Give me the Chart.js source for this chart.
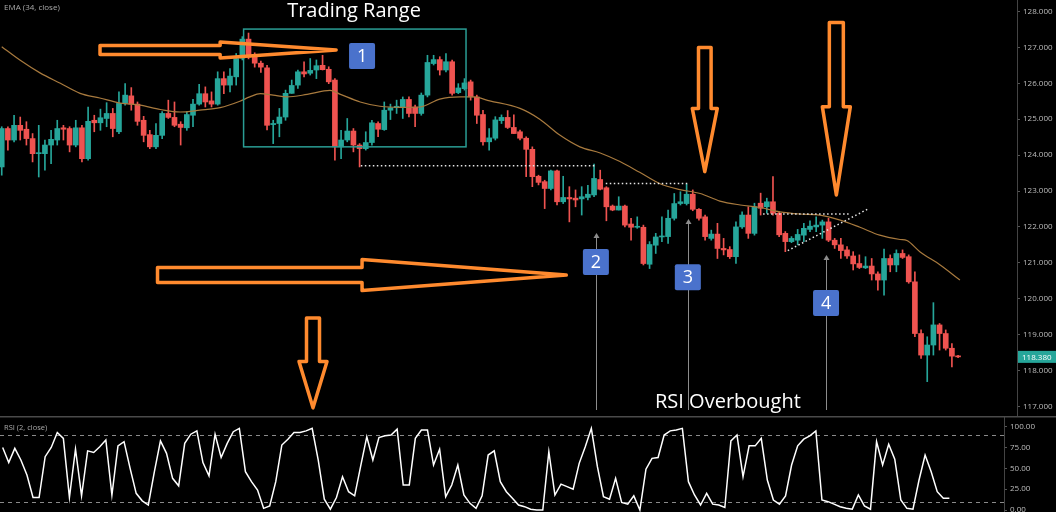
<!DOCTYPE html>
<html>
<head>
<meta charset="utf-8">
<script src="https://cdn.jsdelivr.net/npm/chart.js@4.4.1/dist/chart.umd.min.js"></script>
<style>
  html, body { margin: 0; padding: 0; background: #000; overflow: hidden; }
  canvas { display: block; }
</style>
</head>
<body>
<canvas id="main" width="1056" height="416"></canvas>
<canvas id="rsi" width="1056" height="96"></canvas>
<script>
// price candles (index 0..155)
const opens = [123.67,124.74,124.42,124.83,124.72,124.46,124.04,124.04,124.28,124.42,
  124.76,124.74,124.28,124.76,123.90,124.97,124.90,125.02,125.16,124.65,
  125.44,125.65,125.42,124.97,124.57,124.23,124.55,125.16,125.05,124.86,
  124.76,125.11,125.42,125.71,125.51,125.42,126.13,125.95,126.18,126.70,
  127.23,126.73,126.56,126.43,124.85,124.88,125.06,125.72,125.95,126.32,
  126.28,126.37,126.50,126.39,126.09,124.23,124.42,124.67,124.28,124.18,
  124.35,124.88,124.71,125.25,125.32,125.32,125.55,125.34,125.16,125.67,
  126.55,126.66,126.37,126.60,125.74,125.85,126.04,125.62,125.13,124.37,
  124.47,124.96,125.05,124.77,124.65,124.47,124.16,123.41,123.26,123.07,
  123.56,122.70,122.82,122.80,122.78,122.82,122.89,123.32,123.09,122.58,
  122.47,122.58,122.08,121.99,121.99,120.96,121.49,121.72,121.73,122.24,
  122.65,122.65,122.91,122.49,122.28,121.68,121.80,121.40,121.37,121.17,
  122.00,122.33,121.82,122.66,122.56,122.70,122.38,121.82,121.59,121.63,
  121.77,121.93,122.00,122.05,122.14,121.63,121.50,121.36,121.19,120.98,
  120.86,120.91,120.69,120.52,121.12,120.94,121.26,121.17,120.47,119.03,
  118.43,118.71,119.27,119.03,118.62,118.40];
const highs = [124.79,124.79,125.11,125.06,124.93,124.60,124.83,124.42,124.69,124.97,
  124.83,124.79,124.97,124.83,125.34,125.11,125.28,125.46,125.30,125.76,
  125.99,125.88,125.48,125.08,124.69,124.88,125.21,125.53,125.48,124.93,
  125.21,125.55,125.97,125.90,125.76,126.32,126.32,126.41,126.83,127.30,
  127.40,126.85,126.62,126.50,124.97,125.30,125.81,126.09,126.37,126.60,
  126.69,126.65,126.78,126.46,126.13,124.69,125.02,124.74,124.32,124.65,
  124.97,124.93,125.48,125.42,125.53,125.62,125.62,125.39,125.73,126.78,
  126.78,126.74,126.83,126.65,125.99,126.13,126.09,125.67,125.25,124.74,
  125.07,125.12,125.24,125.12,124.70,124.51,124.23,123.44,123.30,123.58,
  123.58,123.41,123.12,123.03,123.12,123.16,123.75,123.58,123.12,122.61,
  122.84,122.61,122.24,122.28,122.05,121.59,121.82,122.28,122.47,122.93,
  122.98,123.19,123.03,122.51,122.33,121.91,122.10,121.68,121.45,122.14,
  122.42,122.56,122.66,122.94,122.80,123.40,122.42,121.87,121.73,121.93,
  122.10,122.17,122.28,122.19,122.24,121.68,121.68,121.45,121.31,121.22,
  121.17,121.12,120.75,121.38,121.22,121.36,121.36,121.22,120.75,119.13,
  118.94,119.89,119.31,119.13,118.75,118.42];
const lows = [123.44,124.14,124.37,124.42,124.28,123.81,123.39,123.58,123.76,124.28,
  124.42,124.09,124.23,123.81,123.86,124.65,124.69,124.79,124.51,124.60,
  125.39,125.25,124.83,124.37,124.18,124.18,124.46,125.02,124.79,124.28,
  124.69,124.79,125.39,125.34,125.34,125.39,125.71,125.76,125.95,126.65,
  126.68,126.45,126.30,124.70,124.32,124.51,124.97,125.72,125.86,126.18,
  126.23,126.13,126.37,125.99,123.86,123.90,124.37,124.09,123.67,124.14,
  124.28,124.51,124.69,124.99,125.16,125.02,125.06,124.79,125.11,125.62,
  126.51,126.23,126.32,125.67,125.71,125.81,125.53,124.88,124.28,124.14,
  124.42,124.88,124.74,124.60,124.42,123.40,123.12,123.17,122.51,123.03,
  122.61,122.65,122.14,122.56,122.33,122.75,122.84,123.03,122.17,122.45,
  122.47,122.00,121.63,121.96,120.94,120.84,121.26,121.59,121.54,122.19,
  122.61,122.61,122.45,122.19,121.63,121.63,121.12,121.22,121.12,120.98,
  121.96,121.68,121.77,122.33,122.38,122.33,121.73,121.31,121.56,121.50,
  121.59,121.87,121.87,121.68,121.59,121.40,121.12,121.12,120.80,120.84,
  120.84,120.52,120.24,120.10,120.75,120.75,121.12,120.43,118.94,118.34,
  117.69,118.43,118.57,118.57,118.10,118.36];
const closes = [124.74,124.42,124.83,124.69,124.46,124.04,124.06,124.28,124.44,124.74,
  124.72,124.28,124.76,123.90,124.94,124.90,125.04,125.16,124.74,125.44,
  125.67,125.42,124.94,124.55,124.23,124.55,125.16,125.05,124.83,124.77,
  125.13,125.42,125.71,125.48,125.42,126.13,125.95,126.20,126.69,127.23,
  126.73,126.56,126.45,124.83,124.88,125.06,125.72,125.94,126.32,126.26,
  126.36,126.49,126.38,126.04,124.23,124.42,124.67,124.28,124.18,124.35,
  124.90,124.72,125.25,125.32,125.36,125.55,125.16,125.16,125.67,126.58,
  126.66,126.37,126.60,125.72,125.87,126.01,125.62,125.11,124.37,124.48,
  124.98,125.05,124.77,124.60,124.47,124.16,123.40,123.24,123.07,123.56,
  122.70,122.82,122.78,122.75,122.84,122.91,123.35,123.05,122.56,122.47,
  122.58,122.05,121.99,122.01,120.98,121.51,121.72,121.74,122.24,122.65,
  122.70,122.91,122.49,122.24,121.73,121.80,121.40,121.36,121.17,122.00,
  122.33,121.82,122.56,122.52,122.70,122.38,121.78,121.59,121.68,121.79,
  121.96,122.02,122.05,122.14,121.63,121.50,121.34,121.19,120.97,120.87,
  120.91,120.69,120.52,121.12,120.94,121.26,121.15,120.47,119.03,118.43,
  118.71,119.27,119.03,118.62,118.40,118.38];

// EMA (34, close) as traced on the picture: candle index -> price
const emaX = [0, 3, 6.2, 9.5, 12.7, 15.9, 19.2, 22.4, 25.7, 28.9, 32.1, 35.4, 38.6, 40.2, 41.9, 44,
  46.2, 49.5, 53.2, 54.8, 58.1, 61.3, 64.6, 67.8, 71, 74.3, 76.4, 79.1, 84, 87.2, 90.5, 93.7,
  97, 100.2, 103.4, 106.7, 109.9, 113.2, 116.4, 119.7, 122.9, 126.1, 129.4, 132.6, 135.9,
  139.1, 142.3, 145.6, 146.7, 148.8, 152.1, 155.3];
const emaY = [127.02, 126.64, 126.29, 126.00, 125.72, 125.59, 125.45, 125.39, 125.27, 125.20, 125.25, 125.32, 125.50, 125.62, 125.71, 125.67,
  125.62, 125.69, 125.80, 125.70, 125.48, 125.36, 125.33, 125.34, 125.56, 125.62, 125.62, 125.51, 125.30, 125.00, 124.55, 124.23,
  124.06, 123.82, 123.52, 123.20, 123.04, 122.93, 122.72, 122.61, 122.54, 122.42, 122.36, 122.33, 122.19,
  121.99, 121.77, 121.65, 121.62, 121.31, 120.94, 120.52];

// RSI (2, close)
const rsiValues = [75,57,74,60,42,15,15,64,75,93, 86,15,73,17,71,69,76,84,18,77,
  82,50,20,11,6,46,83,68,38,29, 80,91,95,57,41,91,63,80,94,98,
  46,34,24,2,5,34,78,85,93,93, 95,98,60,13,1,15,40,22,17,53,
  88,60,87,89,90,97,30,30,86,96, 96,54,73,16,30,54,18,8,2,17,
  66,71,34,22,14,6,
  4,1,0,0,70,18,31,28,25,56, 76,98,52,16,13,38,9,7,17,0,
  49,62,63,90,95,96,98,34,18,6, 20,7,6,3,83,90,40,77,77,86,
  36,12,7,17,54,77,85,89,95,12, 10,7,4,2,1,18,5,1,82,54,
  79,61,12,2,1,36,66,46,22,14, 14];
const rsiBands = [90, 10];

const priceTicks = [117, 118, 119, 120, 121, 122, 123, 124, 125, 126, 127, 128];
const rsiTicks = [0, 25, 50, 75, 100];
const lastPrice = 118.38;

// annotations, anchored in data units (candle index, price)
const tradingBox = { x1: 39.2, y1: 127.51, x2: 75.25, y2: 124.23 };
const dottedLines = [
  [[58.2, 123.70], [96.3, 123.70]],
  [[97.9, 123.21], [111.2, 123.21]],
  [[123.4, 122.36], [137.6, 122.36]],
  [[127.4, 121.34], [140.4, 122.50]]
];
const markers = [
  { text: '1', x: 58.4, y: 126.76 },
  { text: '2', x: 96.3, y: 121.02, lineTop: 121.83 },
  { text: '3', x: 111.2, y: 120.60, lineTop: 122.22 },
  { text: '4', x: 133.6, y: 119.88, lineTop: 121.22 }
];
const rightArrows = [
  { tail: 15.93, base: 35.4, tip: 54.2, y: 126.93, shaft: 4.5, head: 8 },
  { tail: 25.25, base: 58.4, tip: 91.5, y: 120.66, shaft: 7.5, head: 15.5 }
];
const downArrows = [
  { x: 50.45, top: 119.46, base: 118.25, tip: 116.96, shaft: 6.5, head: 14 },
  { x: 113.95, top: 127.00, base: 125.30, tip: 123.54, shaft: 6.3, head: 12.5 },
  { x: 135.27, top: 127.69, base: 125.35, tip: 122.89, shaft: 7, head: 14 }
];
const captions = [
  { text: 'Trading Range', x: 57.1, y: 128.0 },
  { text: 'RSI Overbought', x: 117.7, y: 117.12 }
];

const UP = '#26a69a';
const DOWN = '#ef5350';
const ORANGE = '#ff8a2e';
const AXIS_TEXT = '#bdbdbd';
const FONT = "'Open Sans', 'Noto Sans', sans-serif";

Chart.defaults.font.family = FONT;

const candleColors = opens.map((o, i) => closes[i] >= o ? UP : DOWN);

function poly(ctx, pts) {
  ctx.beginPath();
  pts.forEach(([px, py], k) => k ? ctx.lineTo(px, py) : ctx.moveTo(px, py));
  ctx.closePath();
  ctx.stroke();
}

// right-hand axis that takes the whole height (no label padding)
function fitAxis(width) {
  return s => {
    s.width = width;
    s.paddingTop = 0;
    s.paddingBottom = 0;
  };
}

const overlay = {
  id: 'overlay',
  afterDatasetsDraw(chart) {
    const { ctx, chartArea } = chart;
    const X = v => chart.scales.x.getPixelForValue(v);
    const Y = v => chart.scales.y.getPixelForValue(v);
    ctx.save();

    // trading range box
    ctx.strokeStyle = '#2a9d94';
    ctx.lineWidth = 1.5;
    ctx.strokeRect(X(tradingBox.x1), Y(tradingBox.y1),
      X(tradingBox.x2) - X(tradingBox.x1), Y(tradingBox.y2) - Y(tradingBox.y1));

    // dotted support / wedge lines
    ctx.strokeStyle = '#e6e6e6';
    ctx.lineWidth = 1.5;
    ctx.setLineDash([1.5, 2.5]);
    dottedLines.forEach(([a, b]) => {
      ctx.beginPath();
      ctx.moveTo(X(a[0]), Y(a[1]));
      ctx.lineTo(X(b[0]), Y(b[1]));
      ctx.stroke();
    });
    ctx.setLineDash([]);

    // gray pointer lines
    ctx.strokeStyle = '#8c8c8c';
    ctx.fillStyle = '#8c8c8c';
    ctx.lineWidth = 1;
    markers.filter(m => m.lineTop).forEach(m => {
      const px = Math.round(X(m.x)) + 0.5;
      const top = Y(m.lineTop);
      ctx.beginPath();
      ctx.moveTo(px, top + 2);
      ctx.lineTo(px, chartArea.bottom - 6);
      ctx.stroke();
      ctx.beginPath();
      ctx.moveTo(px, top);
      ctx.lineTo(px - 3, top + 5);
      ctx.lineTo(px + 3, top + 5);
      ctx.closePath();
      ctx.fill();
    });

    // hollow orange arrows
    ctx.strokeStyle = ORANGE;
    ctx.lineWidth = 3.5;
    ctx.lineJoin = 'round';
    rightArrows.forEach(a => {
      const cy = Y(a.y), x0 = X(a.tail), xb = X(a.base), xt = X(a.tip);
      poly(ctx, [[x0, cy - a.shaft], [xb, cy - a.shaft], [xb, cy - a.head], [xt, cy],
        [xb, cy + a.head], [xb, cy + a.shaft], [x0, cy + a.shaft]]);
    });
    downArrows.forEach(a => {
      const cx = X(a.x), y0 = Y(a.top), yb = Y(a.base), yt = Y(a.tip);
      poly(ctx, [[cx - a.shaft, y0], [cx + a.shaft, y0], [cx + a.shaft, yb], [cx + a.head, yb],
        [cx, yt], [cx - a.head, yb], [cx - a.shaft, yb]]);
    });

    // numbered badges
    ctx.textAlign = 'center';
    ctx.textBaseline = 'middle';
    markers.forEach(m => {
      const cx = X(m.x), cy = Y(m.y);
      ctx.fillStyle = '#4a72cc';
      ctx.beginPath();
      ctx.roundRect(cx - 13, cy - 13, 26, 26, 2);
      ctx.fill();
      ctx.fillStyle = '#ffffff';
      ctx.font = '18px ' + FONT;
      ctx.fillText(m.text, cx, cy + 1);
    });

    // captions
    ctx.font = '20px ' + FONT;
    ctx.fillStyle = '#ffffff';
    captions.forEach(c => ctx.fillText(c.text, X(c.x), Y(c.y)));

    // legend
    ctx.textAlign = 'left';
    ctx.font = '8px ' + FONT;
    ctx.fillStyle = '#a9a9a9';
    ctx.fillText('EMA (34, close)', 4, 8);
    ctx.restore();
  },
  afterDraw(chart) {
    const { ctx, chartArea, width } = chart;
    const py = chart.scales.y.getPixelForValue(lastPrice);
    ctx.save();
    ctx.fillStyle = UP;
    ctx.fillRect(chartArea.right + 1, py - 6, width - chartArea.right - 1, 12);
    ctx.fillStyle = '#ffffff';
    ctx.font = '8px ' + FONT;
    ctx.textAlign = 'left';
    ctx.textBaseline = 'middle';
    ctx.fillText(lastPrice.toFixed(3), chartArea.right + 5, py + 0.5);
    ctx.restore();
  }
};

new Chart(document.getElementById('main'), {
  type: 'bar',
  data: {
    datasets: [
      {
        type: 'line',
        label: 'EMA (34, close)',
        data: emaX.map((x, k) => ({ x, y: emaY[k] })),
        borderColor: '#a87a3e',
        borderWidth: 1.2,
        pointRadius: 0,
        cubicInterpolationMode: 'monotone',
        order: 0
      },
      {
        label: 'body',
        data: opens.map((o, i) => ({ x: i, y: [o, closes[i]] })),
        backgroundColor: candleColors,
        barThickness: 5,
        minBarLength: 1,
        grouped: false,
        order: 1
      },
      {
        label: 'wick',
        data: lows.map((l, i) => ({ x: i, y: [l, highs[i]] })),
        backgroundColor: candleColors,
        barThickness: 1,
        grouped: false,
        order: 2
      }
    ]
  },
  options: {
    responsive: false,
    animation: false,
    layout: { padding: 0 },
    plugins: { legend: { display: false }, tooltip: { enabled: false } },
    scales: {
      x: { type: 'linear', display: false, offset: false, min: -0.28, max: 164.55 },
      y: {
        position: 'right',
        min: 116.733,
        max: 128.32,
        afterFit: fitAxis(39),
        afterBuildTicks(s) { s.ticks = priceTicks.map(v => ({ value: v })); },
        ticks: { callback: v => v.toFixed(3), color: AXIS_TEXT, font: { size: 8 }, padding: 3 },
        grid: { drawOnChartArea: false, tickLength: 3, color: '#555' },
        border: { color: '#444' }
      }
    }
  },
  plugins: [overlay]
});

const rsiDecor = {
  id: 'rsiDecor',
  beforeDatasetsDraw(chart) {
    const { ctx, chartArea } = chart;
    const Y = v => chart.scales.y.getPixelForValue(v);
    ctx.save();
    ctx.strokeStyle = '#8a8a8a';
    ctx.lineWidth = 1;
    ctx.setLineDash([4, 4]);
    rsiBands.forEach(b => {
      const py = Math.round(Y(b)) + 0.5;
      ctx.beginPath();
      ctx.moveTo(chartArea.left, py);
      ctx.lineTo(chartArea.right, py);
      ctx.stroke();
    });
    ctx.restore();
  },
  afterDraw(chart) {
    const { ctx, width } = chart;
    ctx.save();
    ctx.strokeStyle = '#4a4a4a';
    ctx.lineWidth = 1.5;
    ctx.beginPath();
    ctx.moveTo(0, 0.75);
    ctx.lineTo(width, 0.75);
    ctx.stroke();
    ctx.fillStyle = '#a9a9a9';
    ctx.font = '7.5px ' + FONT;
    ctx.textBaseline = 'middle';
    ctx.fillText('RSI (2, close)', 4, 12);
    ctx.restore();
  }
};

new Chart(document.getElementById('rsi'), {
  type: 'line',
  data: {
    datasets: [{
      label: 'RSI (2, close)',
      data: rsiValues.map((v, i) => ({ x: i, y: v })),
      borderColor: '#ffffff',
      borderWidth: 1.5,
      pointRadius: 0,
      tension: 0
    }]
  },
  options: {
    responsive: false,
    animation: false,
    layout: { padding: 0 },
    plugins: { legend: { display: false }, tooltip: { enabled: false } },
    scales: {
      x: { type: 'linear', display: false, min: -0.44, max: 165 },
      y: {
        position: 'right',
        min: -2.4,
        max: 112.84,
        afterFit: fitAxis(52),
        afterBuildTicks(s) { s.ticks = rsiTicks.map(v => ({ value: v })); },
        ticks: { callback: v => v.toFixed(2), color: AXIS_TEXT, font: { size: 8 }, padding: 3 },
        grid: { drawOnChartArea: false, tickLength: 3, color: '#555' },
        border: { color: '#444' }
      }
    }
  },
  plugins: [rsiDecor]
});
</script>
</body>
</html>
